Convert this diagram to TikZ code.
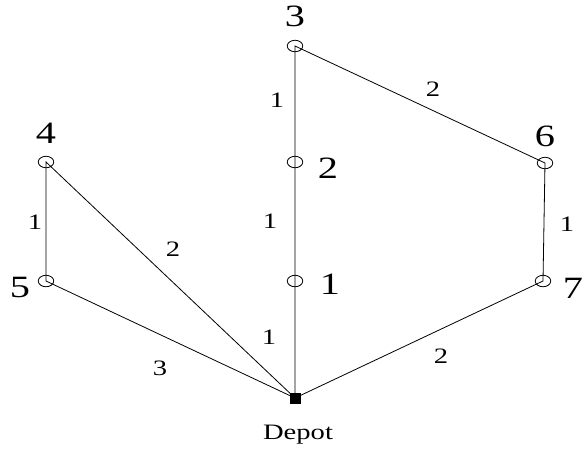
\documentclass[tikz,border=0pt]{standalone}
\usepackage{fontspec}
\setmainfont{Liberation Serif}
\usetikzlibrary{positioning,shapes.geometric}

\begin{document}
\begin{tikzpicture}[x=1pt, y=-1pt, line width=0.8pt,
    cust/.style={draw, ellipse, minimum width=15.5pt, minimum height=11.5pt, inner sep=0pt, line width=0.8pt},
    num/.style={font=\fontsize{31}{33}\selectfont, inner sep=0pt, xscale=1.3},
    cost/.style={font=\fontsize{22}{24}\selectfont, inner sep=0pt, xscale=1.3}]
    \useasboundingbox (0,0) rectangle (586,451);
    % depot and customers
    \node[fill=black, minimum size=11pt, inner sep=0pt] (d) at (295,398) {};
    \node[cust] (c1) at (295,281) {};
    \node[cust] (c2) at (295,162) {};
    \node[cust] (c3) at (295,46) {};
    \node[cust] (c4) at (46,162) {};
    \node[cust] (c5) at (46,281) {};
    \node[cust] (c6) at (545,163) {};
    \node[cust] (c7) at (543,281) {};
    % labels
    \node[font=\fontsize{22}{24}\selectfont, inner sep=0pt, xscale=1.3] (dl) at (298,435) {Depot};
    \node[num] (l1) at (330,284) {1};
    \node[num] (l2) at (328,168) {2};
    \node[num] (l3) at (295,16) {3};
    \node[num] (l4) at (46,133) {4};
    \node[num] (l5) at (20,287) {5};
    \node[num] (l6) at (545,136) {6};
    \node[num] (l7) at (573,288) {7};
    % routes
    \draw (d.center) -- (c1.center) -- (c2.center) -- (c3.center) -- (c6.center) -- (c7.center) -- (d.center);
    \draw (d.center) -- (c4.center) -- (c5.center) -- (d.center);
    \fill (d.center) ++(-5.5,-5.5) rectangle ++(11,11);
    % costs
    \node[cost] (w32) at (277,100) {1};
    \node[cost] (w21) at (270,221) {1};
    \node[cost] (w1d) at (269,337) {1};
    \node[cost] (w36) at (433,89) {2};
    \node[cost] (w67) at (567,224) {1};
    \node[cost] (w7d) at (441,356) {2};
    \node[cost] (w4d) at (173,249) {2};
    \node[cost] (w5d) at (160,368) {3};
    \node[cost] (w45) at (35,222) {1};
  \end{tikzpicture}
\end{document}
